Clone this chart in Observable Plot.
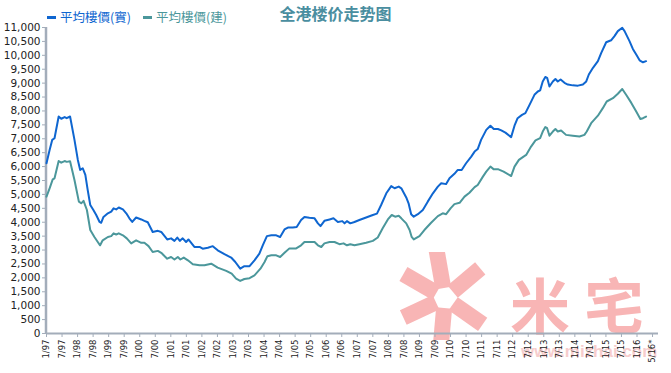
<!DOCTYPE html>
<html>
<head>
<meta charset="utf-8">
<script src="https://cdn.jsdelivr.net/npm/d3@7"></script>
<script src="https://cdn.jsdelivr.net/npm/@observablehq/plot@0.6"></script>
<style>
  html, body { margin: 0; padding: 0; background: #fff; }
  #wrap { position: relative; width: 671px; height: 373px; overflow: hidden; }
  #chart { position: absolute; left: 0; top: 0; z-index: 2; }
  .title { position: absolute; left: 0; width: 671px; top: 3px; text-align: center; z-index: 3;
    font-family: "Noto Sans CJK SC", sans-serif; font-weight: bold; font-size: 16px; color: #4a8ea0; line-height: 20px; }
  .leg { position: absolute; top: 8px; z-index: 3; font-family: "Noto Sans CJK TC", sans-serif; font-size: 12.5px; line-height: 18px; white-space: nowrap; }
  .leg span.d { display: inline-block; width: 9px; height: 2.5px; vertical-align: middle; margin-right: 4px; position: relative; top: -1px; }
  .wm { position: absolute; z-index: 1; color: #f8b5b5; white-space: nowrap; }
  #logo { position: absolute; left: 398px; top: 252px; z-index: 1; }
</style>
</head>
<body>
<div id="wrap">
  <svg id="logo" width="96" height="88" viewBox="0 0 96 88">
    <g fill="#f8b5b5" transform="translate(47,46)">
      <rect x="10" y="-8" width="36" height="16" transform="rotate(-40)"/>
      <rect x="10" y="-8" width="38" height="16" transform="rotate(-100)"/>
      <rect x="10" y="-8" width="38" height="16" transform="rotate(-150)"/>
      <rect x="10" y="-8" width="36" height="16" transform="rotate(155)"/>
      <rect x="10" y="-8" width="34" height="16" transform="rotate(95)"/>
      <rect x="10" y="-8" width="36" height="16" transform="rotate(35)"/>
    </g>
  </svg>
  <div class="wm" style="left:510px; top:273px; font-family:'Noto Sans CJK SC'; font-weight:bold; font-size:60px; line-height:60px; letter-spacing:14px;">米宅</div>
  <div class="wm" style="left:521px; top:342px; font-family:'Liberation Sans'; font-weight:bold; font-size:17px; line-height:20px; color:#f7cdcd;">www.mizhai.com</div>
  <div class="title">全港楼价走势图</div>
  <div class="leg" style="left:47px; color:#0f66d0;"><span class="d" style="background:#0f66d0"></span>平均樓價(實)</div>
  <div class="leg" style="left:143px; color:#4b979b;"><span class="d" style="background:#4b979b"></span>平均樓價(建)</div>
  <div id="chart"></div>
</div>
<script>
// months since Jan 1997
const blueMonths = [0,1.2,2.2,3.1,4.7,5.7,7,7.8,9.1,10.8,12.1,13,14,15,15.9,16.9,18.1,19.2,20.5,21.1,22,23.7,25,25.9,26.9,27.9,29.5,30.8,32,33.1,34.6,36.6,37.8,39.1,41,43,44.3,46.6,48.1,49.4,50.5,51.5,52.6,53.9,54.8,57.1,59.1,60.3,62.3,64.2,66.1,68.7,71.3,72.9,74.8,76.4,78.4,80.3,82.2,83.5,85.1,86.8,88.7,90.2,91.9,93.2,95.1,96.6,98.3,99.6,101.5,103.5,104.8,105.8,107.3,109.3,110.8,112.5,114.2,115.1,116,117.3,118.9,120.8,123.4,126,127.6,129.2,131.2,133.1,134.4,136,137,138.9,139.8,140.8,141.8,143.4,145.3,147.2,149.2,151.1,152.4,154.3,155.6,157.5,158.8,160.3,162,164,165.3,166.5,167.8,169.8,171.4,172.7,174.3,175.6,177.2,179.4,180.7,181.9,183.6,184.9,186.5,188.4,189.7,190.6,191.6,192.6,193.3,194.2,195.5,196.5,197.4,198.5,200,201.3,203.2,205.2,207.1,208.4,209.4,211,212.9,214.2,216.1,218,219.3,220.6,222.3,223.2,225.1,226.4,227.7,229,230.3,231.5];
const blueValues = [6120,6600,6960,7020,7800,7720,7780,7740,7800,6960,6240,5880,5940,5700,5160,4620,4440,4260,4010,3980,4190,4320,4380,4500,4460,4530,4460,4320,4140,4010,4170,4100,4050,4000,3650,3690,3650,3380,3420,3330,3450,3330,3420,3290,3380,3110,3110,3050,3080,3140,2990,2850,2730,2570,2330,2420,2420,2630,2870,3170,3500,3530,3530,3470,3740,3810,3810,3830,4080,4190,4160,4140,3960,3860,4050,4100,4140,4010,4040,3960,4040,3960,4010,4080,4170,4260,4310,4620,5040,5300,5220,5280,5220,4890,4680,4290,4200,4290,4440,4740,5040,5280,5400,5370,5580,5740,5880,5880,6120,6360,6540,6630,6960,7320,7470,7350,7350,7300,7220,7060,7470,7740,7860,7920,8220,8580,8700,8740,9060,9220,9190,8880,9060,9150,9060,9130,9010,8950,8920,8910,8950,9060,9310,9550,9790,10090,10470,10540,10690,10870,10990,10870,10510,10230,10030,9820,9750,9790];
const tealMonths = [0,1.2,2.4,3.1,4.7,5.7,7,7.8,9.1,10.8,12.5,13.4,14.3,15.6,16.9,18.5,19.8,20.7,21.7,23.7,25,25.9,26.9,27.9,29.5,31,32.7,34.6,36.6,37.8,39.4,41,43,44.3,46.6,48.1,49.4,50.7,51.7,53,54.6,56.5,59.1,61,63.6,66.1,69.4,71.5,73.2,74.8,76.4,78.4,80.3,82.6,84.2,85.3,86.8,88.7,90.2,91.9,93.8,96.4,98.3,99.6,101.5,103.5,104.8,106.1,107.3,109.3,111.2,113.1,114.7,116,117.3,118.9,120.8,123.4,126,127.9,129.8,131.8,133.3,134.6,136,137,138.9,140.2,141,141.8,144,145.9,148.5,151.1,153,154.3,156,157.5,159.5,161.4,163.3,165.3,166.5,168.5,169.8,171.4,172.7,174.5,176.5,179.4,180.7,182.4,184.2,185.2,187.1,188.8,190.6,191.6,192.6,193.3,194.2,195.5,196.5,197.4,198.7,200.6,203.2,205.8,207.7,208.6,210.3,212.9,214.8,216.3,218.7,220.6,222.3,223.8,225.8,227.7,229.3,230.3,231.5];
const tealValues = [4920,5220,5540,5580,6200,6140,6200,6170,6190,5520,4740,4680,4770,4440,3720,3470,3290,3170,3350,3470,3500,3600,3560,3600,3530,3420,3240,3350,3260,3260,3140,2930,2970,2900,2690,2750,2660,2750,2660,2730,2630,2490,2450,2450,2510,2370,2250,2150,1970,1890,1960,1990,2090,2330,2570,2780,2810,2810,2750,2900,3060,3060,3170,3290,3290,3290,3170,3110,3240,3290,3290,3210,3240,3170,3210,3170,3210,3260,3330,3450,3780,4100,4260,4200,4230,4140,3960,3720,3470,3380,3500,3720,3980,4220,4320,4290,4500,4650,4700,4920,5060,5260,5340,5640,5820,6000,5900,5900,5820,5660,6000,6240,6360,6420,6720,6940,7020,7260,7420,7380,7110,7260,7350,7260,7300,7140,7110,7080,7140,7260,7560,7830,8100,8340,8460,8620,8790,8580,8290,7980,7710,7740,7800];
const tickLabels = ["1/97","7/97","1/98","7/98","1/99","7/99","1/00","7/00","1/01","7/01","1/02","7/02","1/03","7/03","1/04","7/04","1/05","7/05","1/06","7/06","1/07","7/07","1/08","7/08","1/09","7/09","1/10","7/10","1/11","7/11","1/12","7/12","1/13","7/13","1/14","7/14","1/15","7/15","1/16","5/16*"];
const tickMonths = [0,6,12,18,24,30,36,42,48,54,60,66,72,78,84,90,96,102,108,114,120,126,132,138,144,150,156,162,168,174,180,186,192,198,204,210,216,222,228,234];
const yTicks = [0,500,1000,1500,2000,2500,3000,3500,4000,4500,5000,5500,6000,6500,7000,7500,8000,8500,9000,9500,10000,10500,11000];

const blue = blueMonths.map((m, i) => ({m, v: blueValues[i]}));
const teal = tealMonths.map((m, i) => ({m, v: tealValues[i]}));
const labelOf = new Map(tickMonths.map((m, i) => [m, tickLabels[i]]));
const axisColor = "#a3adba";
const fmt = d3.format(",");

const chart = Plot.plot({
  width: 671,
  height: 373,
  marginLeft: 46,
  marginRight: 13,
  marginTop: 27,
  marginBottom: 40,
  style: {fontFamily: "DejaVu Sans, Verdana, sans-serif", color: "#333", background: "transparent", overflow: "visible"},
  x: {domain: [0, 236.3]},
  y: {domain: [0, 11000]},
  marks: [
    Plot.axisY({ticks: yTicks, tickFormat: d => fmt(d), tickSize: 4, tickPadding: 2, stroke: axisColor, fill: "#222", fontSize: 10.5, label: null}),
    Plot.axisX({ticks: tickMonths, tickFormat: d => labelOf.get(d), tickRotate: -90, tickSize: 4, tickPadding: 2, stroke: axisColor, fill: "#222", fontSize: 8.5, label: null}),
    Plot.ruleX([0], {stroke: axisColor, strokeWidth: 2.5, dx: -0.5}),
    Plot.ruleY([0], {stroke: axisColor, strokeWidth: 2}),
    Plot.line(teal, {x: "m", y: "v", stroke: "#4b979b", strokeWidth: 2}),
    Plot.line(blue, {x: "m", y: "v", stroke: "#0f66d0", strokeWidth: 2})
  ]
});
document.getElementById("chart").appendChild(chart);
</script>
</body>
</html>
